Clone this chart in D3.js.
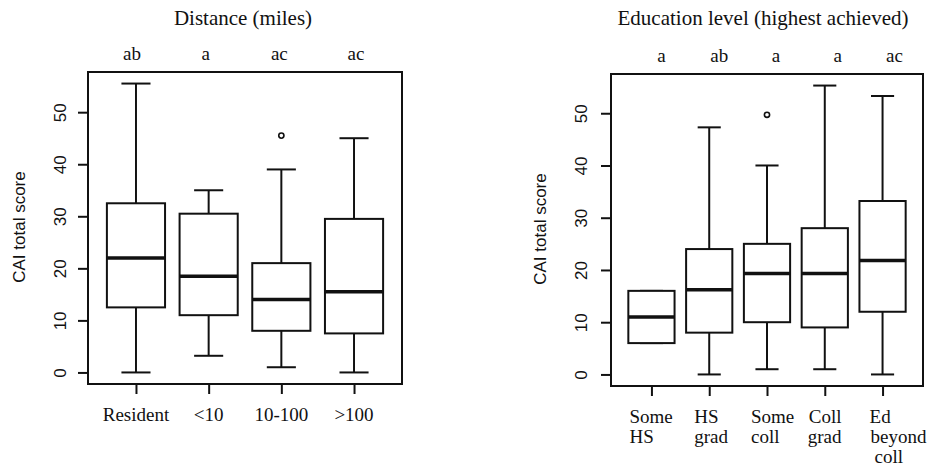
<!DOCTYPE html>
<html>
<head>
<meta charset="utf-8">
<script src="https://cdn.jsdelivr.net/npm/d3@7.9.0/dist/d3.min.js"></script>
<style>
  body { margin: 0; background: #fff; }
  svg { display: block; }
  .serif { font-family: 'Liberation Serif', 'Times New Roman', serif; fill: #111; }
  .sans { font-family: 'Liberation Sans', Arial, sans-serif; fill: #111; }
</style>
</head>
<body>
<svg id="chart" width="929" height="468"></svg>
<script>
// distance panel
const distCats = ['Resident', '<10', '10-100', '>100'];
// [min, q1, median, q3, max]
const distStats = [
  [0, 12.5, 22, 32.5, 55.5],
  [3.2, 11, 18.5, 30.5, 35],
  [1, 8, 14, 21, 39],
  [0, 7.5, 15.5, 29.5, 45]
];
const distOutliers = [[], [], [45.5], []];
const distLetters = ['ab', 'a', 'ac', 'ac'];

// education panel
const eduCats = [['Some', 'HS'], ['HS', 'grad'], ['Some', 'coll'], ['Coll', 'grad'], ['Ed', 'beyond', 'coll']];
const eduStats = [
  [6, 6, 11, 16, 16],
  [0, 8, 16.2, 24, 47.3],
  [1, 10, 19.3, 25, 40],
  [1, 9, 19.3, 28, 55.3],
  [0, 12, 21.8, 33.2, 53.3]
];
const eduOutliers = [[], [], [49.7], [], []];
const eduLetters = ['a', 'ab', 'a', 'a', 'ac'];

const yTicks = [0, 10, 20, 30, 40, 50];

const svg = d3.select('#chart');

function drawPanel(cfg) {
  const n = cfg.stats.length;
  const g = svg.append('g');

  const x = d3.scaleLinear()
    .domain([0.5 - 0.04 * n, n + 0.5 + 0.04 * n])
    .range([cfg.left, cfg.right]);

  const all = cfg.stats.flat().concat(cfg.outliers.flat());
  const [lo, hi] = d3.extent(all);
  const pad = (hi - lo) * 0.04;
  const y = d3.scaleLinear()
    .domain([lo - pad, hi + pad])
    .range([cfg.bottom, cfg.top]);

  // y axis
  const ya = g.append('g')
    .attr('transform', `translate(${cfg.left},0)`)
    .call(d3.axisLeft(y).tickValues(yTicks).tickSize(10).tickFormat(d3.format('d')));
  ya.select('.domain').remove();
  ya.selectAll('line').attr('stroke', '#111').attr('stroke-width', 2);
  ya.selectAll('text')
    .attr('class', 'sans')
    .attr('font-size', 17)
    .attr('text-anchor', 'middle')
    .attr('transform', 'rotate(-90)')
    .attr('x', 0)
    .attr('dy', 0)
    .attr('y', cfg.tickLabelY);

  // x axis ticks
  const xa = g.append('g')
    .attr('transform', `translate(0,${cfg.bottom})`)
    .call(d3.axisBottom(x).tickValues(d3.range(1, n + 1)).tickSize(10).tickFormat(''));
  xa.select('.domain').remove();
  xa.selectAll('line').attr('stroke', '#111').attr('stroke-width', 2);

  // frame
  g.append('rect')
    .attr('x', cfg.left).attr('y', cfg.top)
    .attr('width', cfg.right - cfg.left).attr('height', cfg.bottom - cfg.top)
    .attr('fill', 'none').attr('stroke', '#111').attr('stroke-width', 2);

  const bw = 0.8, cw = 0.4;
  const boxes = g.selectAll('.box').data(cfg.stats).join('g').attr('class', 'box');

  // whiskers
  boxes.append('line')
    .attr('x1', (d, i) => x(i + 1)).attr('x2', (d, i) => x(i + 1))
    .attr('y1', d => y(d[0])).attr('y2', d => y(d[1]))
    .attr('stroke', '#111').attr('stroke-width', 2);
  boxes.append('line')
    .attr('x1', (d, i) => x(i + 1)).attr('x2', (d, i) => x(i + 1))
    .attr('y1', d => y(d[3])).attr('y2', d => y(d[4]))
    .attr('stroke', '#111').attr('stroke-width', 2);
  // caps
  [0, 4].forEach(k => {
    boxes.append('line')
      .attr('x1', (d, i) => x(i + 1 - cw / 2)).attr('x2', (d, i) => x(i + 1 + cw / 2))
      .attr('y1', d => y(d[k])).attr('y2', d => y(d[k]))
      .attr('stroke', '#111').attr('stroke-width', 2);
  });
  // box
  boxes.append('rect')
    .attr('x', (d, i) => x(i + 1 - bw / 2))
    .attr('width', x(1 + bw / 2) - x(1 - bw / 2))
    .attr('y', d => y(d[3]))
    .attr('height', d => y(d[1]) - y(d[3]))
    .attr('fill', '#fff').attr('stroke', '#111').attr('stroke-width', 2);
  // median
  boxes.append('line')
    .attr('x1', (d, i) => x(i + 1 - bw / 2)).attr('x2', (d, i) => x(i + 1 + bw / 2))
    .attr('y1', d => y(d[2])).attr('y2', d => y(d[2]))
    .attr('stroke', '#111').attr('stroke-width', 3.5);

  // outliers
  cfg.outliers.forEach((vals, i) => {
    g.selectAll(null).data(vals).join('circle')
      .attr('cx', x(i + 1)).attr('cy', d => y(d))
      .attr('r', 2.6)
      .attr('fill', 'none').attr('stroke', '#111').attr('stroke-width', 1.6);
  });

  // significance letters
  g.selectAll('.letter').data(cfg.letters).join('text')
    .attr('class', 'serif')
    .attr('font-size', 19)
    .attr('text-anchor', 'middle')
    .attr('x', (d, i) => x(i + 1) + cfg.letterDx[i])
    .attr('y', cfg.top - 12)
    .text(d => d);

  // category labels
  const labels = g.selectAll('.cat').data(cfg.cats).join('text')
    .attr('class', 'serif')
    .attr('font-size', 19)
    .attr('text-anchor', cfg.multiline ? 'start' : 'middle');
  labels.each(function (d, i) {
    const lines = Array.isArray(d) ? d : [d];
    d3.select(this).selectAll('tspan').data(lines).join('tspan')
      .attr('x', (l, j) => x(i + 1) + (cfg.multiline ? cfg.labelDx[i][j] : 0))
      .attr('y', (l, j) => cfg.bottom + 37 + j * 20)
      .text(l => l);
  });

  // title
  g.append('text')
    .attr('class', 'serif')
    .attr('font-size', 21)
    .attr('text-anchor', 'middle')
    .attr('x', (cfg.left + cfg.right) / 2 + cfg.titleDx)
    .attr('y', 25)
    .text(cfg.title);

  // y title
  g.append('text')
    .attr('class', 'sans')
    .attr('font-size', 17)
    .attr('text-anchor', 'middle')
    .attr('transform', `translate(${cfg.yTitleX},${(cfg.top + cfg.bottom) / 2 - 1}) rotate(-90)`)
    .text('CAI total score');
}

drawPanel({
  left: 88, right: 402, top: 72, bottom: 384,
  stats: distStats, outliers: distOutliers, cats: distCats, letters: distLetters,
  letterDx: [-4, -3, -2, 2],
  multiline: false,
  tickLabelY: -22,
  yTitleX: 25,
  titleDx: -2,
  title: 'Distance (miles)'
});

drawPanel({
  left: 611, right: 923, top: 74, bottom: 386,
  stats: eduStats, outliers: eduOutliers, cats: eduCats, letters: eduLetters,
  letterDx: [10, 10, 9, 13, 12],
  multiline: true,
  labelDx: [[-22, -22], [-15, -15], [-16, -16], [-16, -17], [-13, -12, -8]],
  tickLabelY: -24,
  yTitleX: 546,
  titleDx: -4,
  title: 'Education level (highest achieved)'
});
</script>
</body>
</html>
